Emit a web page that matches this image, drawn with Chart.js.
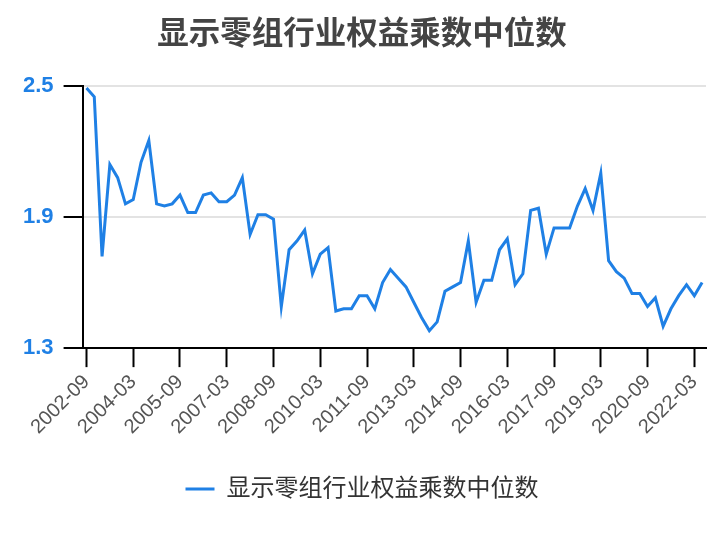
<!DOCTYPE html>
<html>
<head>
<meta charset="utf-8">
<script src="https://cdn.jsdelivr.net/npm/chart.js@4.4.1/dist/chart.umd.min.js"></script>
<style>
    html, body { margin: 0; padding: 0; background: #ffffff; }
    #wrap { width: 724px; height: 540px; }
</style>
</head>
<body>
<div id="wrap"><canvas id="chart" width="724" height="540"></canvas></div>
<script>
// ==================== DONNÉES ====================
const chartTitle = "显示零组行业权益乘数中位数";
const seriesName = "显示零组行业权益乘数中位数";

const quarters = [
    "2002-09", "2002-12", "2003-03", "2003-06", "2003-09", "2003-12",
    "2004-03", "2004-06", "2004-09", "2004-12", "2005-03", "2005-06",
    "2005-09", "2005-12", "2006-03", "2006-06", "2006-09", "2006-12",
    "2007-03", "2007-06", "2007-09", "2007-12", "2008-03", "2008-06",
    "2008-09", "2008-12", "2009-03", "2009-06", "2009-09", "2009-12",
    "2010-03", "2010-06", "2010-09", "2010-12", "2011-03", "2011-06",
    "2011-09", "2011-12", "2012-03", "2012-06", "2012-09", "2012-12",
    "2013-03", "2013-06", "2013-09", "2013-12", "2014-03", "2014-06",
    "2014-09", "2014-12", "2015-03", "2015-06", "2015-09", "2015-12",
    "2016-03", "2016-06", "2016-09", "2016-12", "2017-03", "2017-06",
    "2017-09", "2017-12", "2018-03", "2018-06", "2018-09", "2018-12",
    "2019-03", "2019-06", "2019-09", "2019-12", "2020-03", "2020-06",
    "2020-09", "2020-12", "2021-03", "2021-06", "2021-09", "2021-12",
    "2022-03", "2022-06"
];

const medianMultiplier = [
    2.49, 2.45, 1.72, 2.14, 2.08, 1.96,
    1.98, 2.15, 2.25, 1.96, 1.95, 1.96,
    2.00, 1.92, 1.92, 2.00, 2.01, 1.97,
    1.97, 2.00, 2.08, 1.82, 1.91, 1.91,
    1.89, 1.49, 1.75, 1.79, 1.84, 1.64,
    1.73, 1.76, 1.47, 1.48, 1.48, 1.54,
    1.54, 1.48, 1.60, 1.66, 1.62, 1.58,
    1.51, 1.44, 1.38, 1.42, 1.56, 1.58,
    1.60, 1.79, 1.51, 1.61, 1.61, 1.75,
    1.80, 1.59, 1.64, 1.93, 1.94, 1.73,
    1.85, 1.85, 1.85, 1.95, 2.03, 1.93,
    2.10, 1.70, 1.65, 1.62, 1.55, 1.55,
    1.49, 1.53, 1.40, 1.48, 1.54, 1.59,
    1.54, 1.60
];

const yTicks = [1.3, 1.9, 2.5];
const labelEvery = 6;

// ==================== STYLE ====================
const BLUE = "#1f80e5";
const FONT = "'Liberation Sans', Arial, 'Noto Sans CJK SC', sans-serif";

// ==================== GRAPHIQUE ====================
const ctx = document.getElementById("chart").getContext("2d");

new Chart(ctx, {
    type: "line",
    data: {
        labels: quarters,
        datasets: [
            {
                label: seriesName,
                data: medianMultiplier,
                borderColor: BLUE,
                backgroundColor: BLUE,
                borderWidth: 3,
                pointRadius: 0,
                tension: 0,
                fill: false
            }
        ]
    },
    options: {
        responsive: false,
        animation: false,
        devicePixelRatio: 1,
        layout: {
            padding: { left: 18, right: 18, top: 0, bottom: 29 }
        },
        plugins: {
            title: {
                display: true,
                text: chartTitle,
                color: "#444444",
                font: { family: FONT, size: 31.5, weight: "bold" },
                padding: { top: 16, bottom: 32 }
            },
            legend: {
                position: "bottom",
                labels: {
                    color: "#333333",
                    font: { family: FONT, size: 24 },
                    boxWidth: 29,
                    boxHeight: 0,
                    padding: 20
                }
            },
            tooltip: { enabled: false }
        },
        scales: {
            x: {
                offset: true,
                border: { color: "#000000", width: 2 },
                grid: {
                    drawOnChartArea: false,
                    tickLength: 19,
                    tickColor: "#000000",
                    tickWidth: 2
                },
                ticks: {
                    autoSkip: false,
                    maxRotation: 45,
                    minRotation: 45,
                    padding: 3,
                    color: "#555555",
                    font: { family: FONT, size: 20 },
                    callback: (value, idx) => (idx % labelEvery === 0 ? quarters[idx] : null)
                },
                // les étiquettes pivotées débordent à gauche : on garde l'axe Y où il est
                afterFit: (axis) => {
                    axis.paddingLeft = 0;
                    axis.paddingRight = 0;
                    axis.height += 15;
                }
            },
            y: {
                min: 1.3,
                max: 2.5,
                afterBuildTicks: (axis) => {
                    axis.ticks = yTicks.map(v => ({ value: v }));
                },
                afterFit: (axis) => {
                    axis.width -= 5;
                },
                border: { color: "#000000", width: 2 },
                grid: {
                    color: "#e3e3e3",
                    lineWidth: 2,
                    tickLength: 19,
                    tickColor: "#000000",
                    tickWidth: 2
                },
                ticks: {
                    padding: 10,
                    color: BLUE,
                    font: { family: FONT, size: 22, weight: "bold" },
                    callback: (value) => value.toFixed(1)
                }
            }
        }
    }
});
</script>
</body>
</html>
